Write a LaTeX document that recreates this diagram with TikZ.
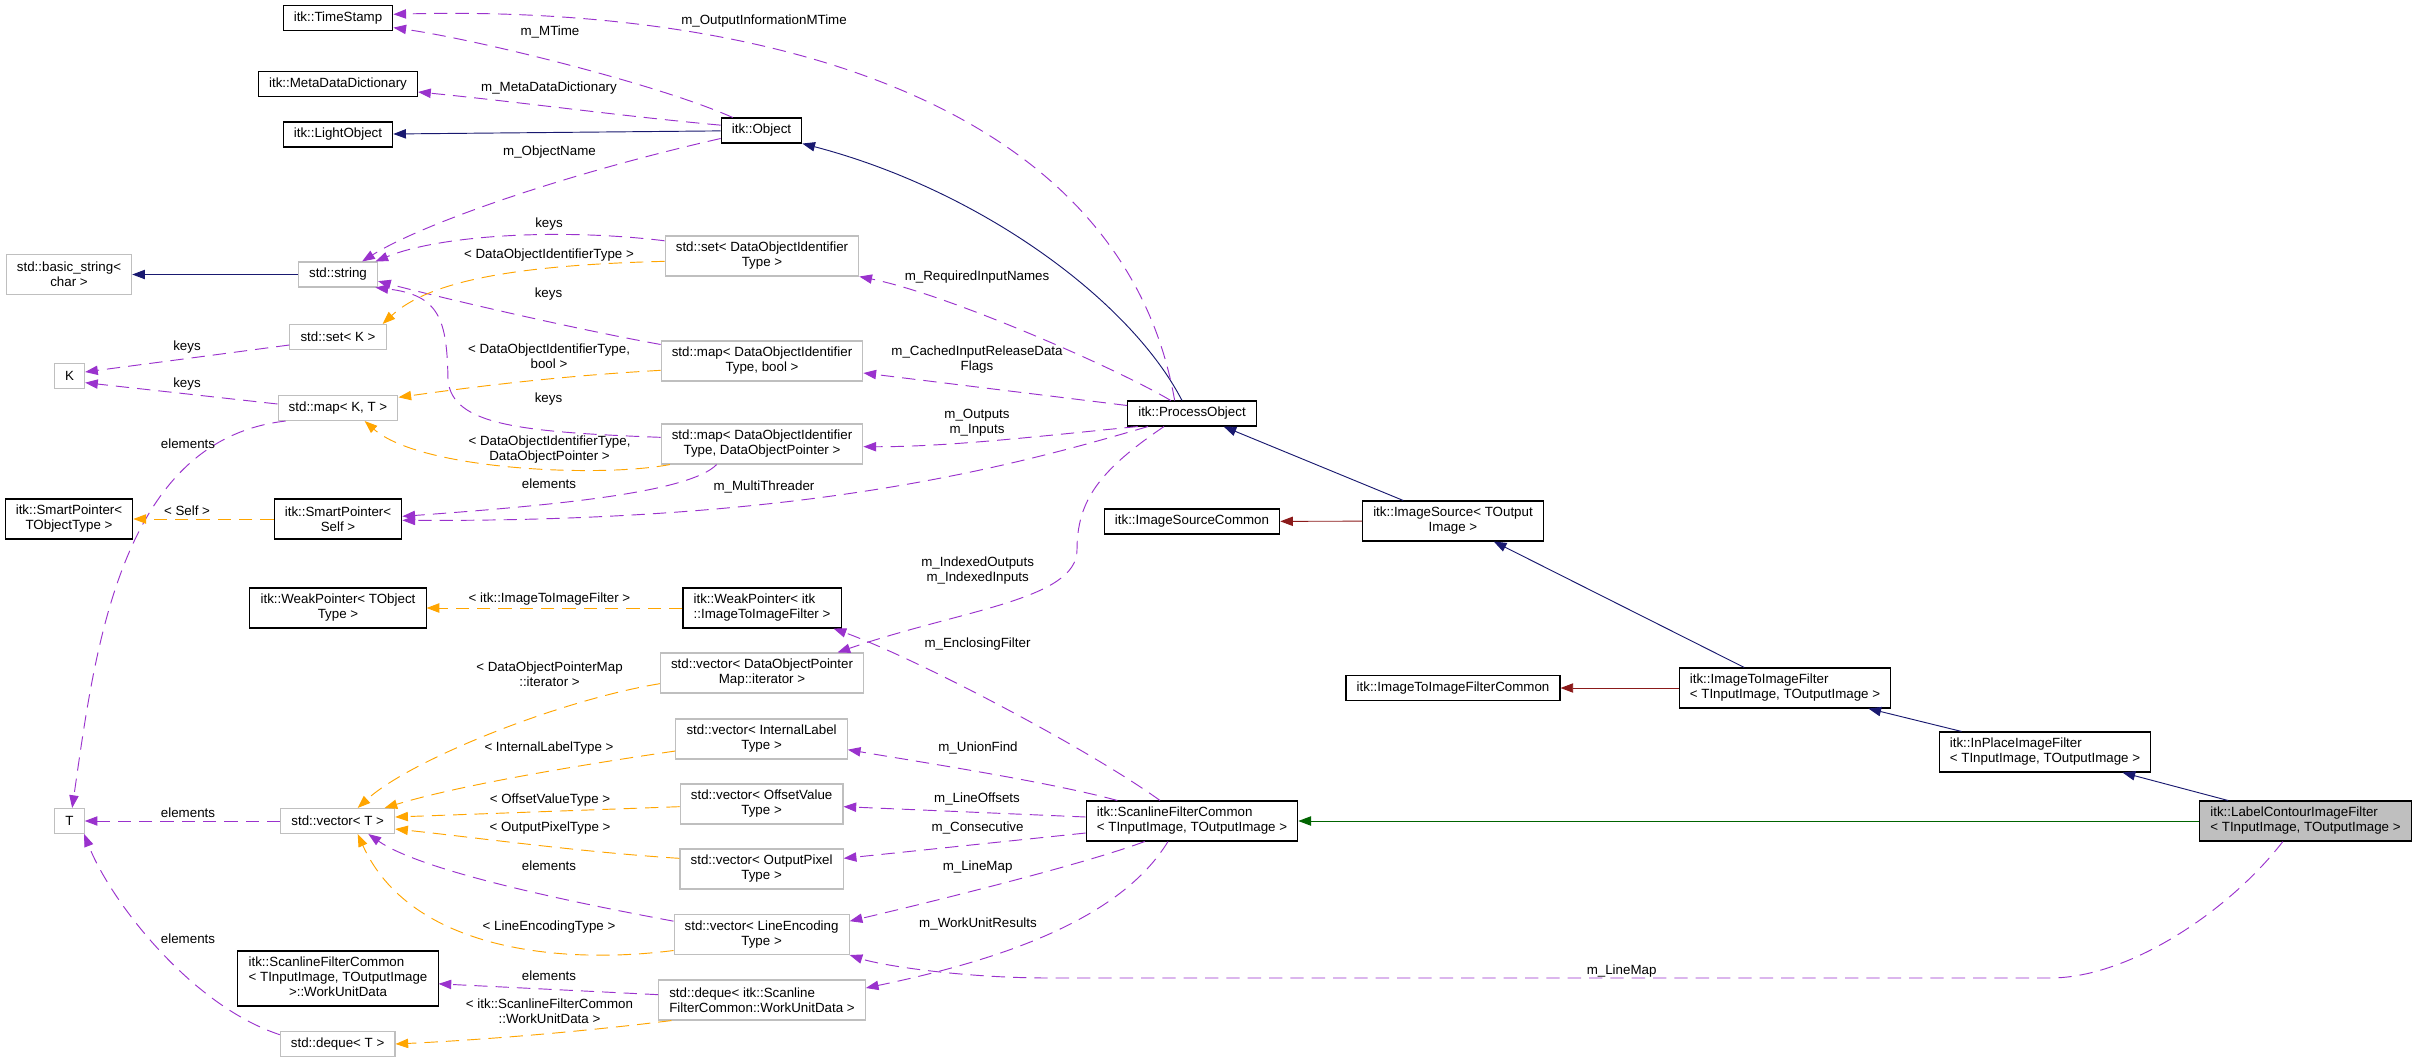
\documentclass[tikz,border=0pt]{standalone}
\usepackage{fontspec}
\setmainfont{Liberation Sans}
\usetikzlibrary{arrows.meta}
\definecolor{dxinh}{HTML}{191970}
\definecolor{dxprot}{HTML}{8B1A1A}
\definecolor{dxpriv}{HTML}{006400}
\definecolor{dxuse}{HTML}{9A32CD}
\definecolor{dxtpl}{HTML}{FFA500}
\definecolor{dxgrey}{HTML}{BFBFBF}
\begin{document}
\begin{tikzpicture}[x=0.75pt,y=-0.75pt,
  every node/.style={font=\fontsize{10}{11.25}\selectfont},
  cls/.style={draw=black,fill=white,line width=0.8pt,inner xsep=8pt,inner ysep=2pt,minimum height=18.75pt,align=center},
  ext/.style={cls,draw=dxgrey},
  two/.style={minimum height=30pt},
  three/.style={minimum height=41.25pt},
  lft/.style={align=left},
  lbl/.style={inner sep=0pt,align=center},
  edge/.style={line width=0.7pt,-{Triangle[length=9.5pt,width=7pt]}},
  inh/.style={edge,draw=dxinh},
  prot/.style={edge,draw=dxprot},
  priv/.style={edge,draw=dxpriv},
  usage/.style={edge,draw=dxuse,dash pattern=on 10pt off 6pt},
  tpl/.style={edge,draw=dxtpl,dash pattern=on 10pt off 6pt}]
\path[use as bounding box,fill=white] (0,0) rectangle (2416,1063);
\node[cls] (ts) at (338,18.3) {itk::TimeStamp};
\node[cls] (mdd) at (338,84) {itk::MetaDataDictionary};
\node[cls] (lo) at (338,134.5) {itk::LightObject};
\node[cls] (obj) at (761.5,130.5) {itk::Object};
\node[ext,two] (bs) at (69,274.5) {std::basic\_string<\\char >};
\node[ext] (str) at (338,274.5) {std::string};
\node[ext] (setK) at (338,337) {std::set< K >};
\node[ext] (K) at (69.5,376) {K};
\node[ext] (mapKT) at (338,408) {std::map< K, T >};
\node[cls,two] (spT) at (69,519) {itk::SmartPointer<\\TObjectType >};
\node[cls,two] (spS) at (338,519) {itk::SmartPointer<\\Self >};
\node[cls,two] (wpT) at (338,608) {itk::WeakPointer< TObject\\Type >};
\node[ext] (T) at (69.5,821) {T};
\node[ext] (vT) at (337.7,821) {std::vector< T >};
\node[cls,three] (wud) at (338,978.5) {\begin{tabular}{@{}l@{}}itk::ScanlineFilterCommon\\< TInputImage, TOutputImage\\\multicolumn{1}{@{}c@{}}{>::WorkUnitData}\end{tabular}};
\node[ext] (dqT) at (337.6,1044) {std::deque< T >};
\node[ext,two] (sdo) at (762,256) {std::set< DataObjectIdentifier\\Type >};
\node[ext,two] (mbool) at (762,361) {std::map< DataObjectIdentifier\\Type, bool >};
\node[ext,two] (mdop) at (762,444) {std::map< DataObjectIdentifier\\Type, DataObjectPointer >};
\node[cls,two,lft] (wpI) at (762,608) {itk::WeakPointer< itk\\::ImageToImageFilter >};
\node[ext,two] (vdm) at (762,673) {std::vector< DataObjectPointer\\Map::iterator >};
\node[ext,two] (vIL) at (761.6,739) {std::vector< InternalLabel\\Type >};
\node[ext,two] (vOV) at (761.6,804) {std::vector< OffsetValue\\Type >};
\node[ext,two] (vOP) at (761.6,869) {std::vector< OutputPixel\\Type >};
\node[ext,two] (vLE) at (761.6,934.5) {std::vector< LineEncoding\\Type >};
\node[ext,two,lft] (dqS) at (762,1000) {std::deque< itk::Scanline\\FilterCommon::WorkUnitData >};
\node[cls] (po) at (1192,413.5) {itk::ProcessObject};
\node[cls] (isc) at (1192,521.5) {itk::ImageSourceCommon};
\node[cls,two,lft] (sfc) at (1192,821) {itk::ScanlineFilterCommon\\< TInputImage, TOutputImage >};
\node[cls,two] (is) at (1453,521) {itk::ImageSource< TOutput\\Image >};
\node[cls] (i2ic) at (1453,688) {itk::ImageToImageFilterCommon};
\node[cls,two,lft] (i2i) at (1785,688) {itk::ImageToImageFilter\\< TInputImage, TOutputImage >};
\node[cls,two,lft] (ip) at (2045,752) {itk::InPlaceImageFilter\\< TInputImage, TOutputImage >};
\node[cls,two,lft,fill=dxgrey] (lc) at (2305.5,821) {itk::LabelContourImageFilter\\< TInputImage, TOutputImage >};
\draw[inh] (obj) -- (lo);
\draw[inh] ([xshift=-7.5pt]po.north) .. controls (1130,300) and (980,190) .. (obj.south east);
\draw[inh] (is) -- (po);
\draw[inh] (i2i) -- (is);
\draw[inh] (ip) -- (i2i);
\draw[inh] (lc) -- (ip);
\draw[inh] (str) -- (bs);
\draw[prot] (is) -- (isc);
\draw[prot] (i2i) -- (i2ic);
\draw[priv] (lc) -- (sfc);
\draw[usage] ([xshift=-13pt]po.north) .. controls (1120,90) and (740,5) .. ([yshift=3pt]ts.east) node[lbl] (l1) at (764,21) {m\_OutputInformationMTime};
\draw[usage] ([xshift=9pt]obj.north west) .. controls (660,85) and (480,40) .. ([yshift=-7pt]ts.east) node[lbl] (l2) at (550,32) {m\_MTime};
\draw[usage] ([yshift=4pt]obj.west) .. controls (620,116) and (520,102) .. ([yshift=-6pt]mdd.east) node[lbl] (l3) at (549,88) {m\_MetaDataDictionary};
\draw[usage] ([yshift=-6pt]obj.west) .. controls (560,175) and (420,225) .. ([xshift=-12pt]str.north east) node[lbl] (l4) at (549.5,152) {m\_ObjectName};
\draw[usage] ([yshift=-4pt]sdo.north west) .. controls (560,228) and (440,235) .. ([xshift=-2pt]str.north east) node[lbl] (l5) at (549,224) {keys};
\draw[usage] ([yshift=-3pt]mbool.north west) .. controls (580,330) and (450,300) .. ([yshift=-5pt]str.east) node[lbl] (l6) at (548.5,294) {keys};
\draw[usage] ([yshift=5pt]mdop.west) .. controls (520,432) and (452,425) .. (448,380) .. controls (447,320) and (440,295) .. ([xshift=-2pt]str.south east) node[lbl] (l7) at (548.5,399) {keys};
\draw[usage] ([yshift=-6pt]setK.west) -- ([yshift=3pt]K.east) node[lbl] (l8) at (187,347) {keys};
\draw[usage] ([yshift=3pt]mapKT.west) -- ([yshift=-5pt]K.east) node[lbl] (l9) at (187,384) {keys};
\draw[usage] ([xshift=6pt]mapKT.south west) .. controls (120,440) and (95,650) .. ([xshift=2pt]T.north) node[lbl] (l10) at (188,444) {elements};
\draw[usage] ([xshift=-34pt]mdop.south) .. controls (690,492) and (560,505) .. ([yshift=2pt]spS.east) node[lbl] (l11) at (549,484) {elements};
\draw[usage] ([xshift=-33pt]po.south) .. controls (1000,470) and (800,522) .. ([yshift=-1pt]spS.east) node[lbl] (l12) at (764,487) {m\_MultiThreader};
\draw[usage] ([xshift=-16pt]po.north) .. controls (1120,370) and (950,295) .. (sdo.south east) node[lbl] (l13) at (977,277) {m\_RequiredInputNames};
\draw[usage] ([yshift=6pt]po.west) -- ([yshift=-9pt]mbool.east) node[lbl] (l14) at (977,360) {m\_CachedInputReleaseData\\Flags};
\draw[usage] ([xshift=8pt]po.south west) .. controls (1050,435) and (950,447) .. ([yshift=-2pt]mdop.east) node[lbl] (l15) at (977,423) {m\_Outputs\\m\_Inputs};
\draw[usage] ([xshift=-21pt]po.south) .. controls (1100,470) and (1077,500) .. (1077,550) .. controls (1077,600) and (960,610) .. ([xshift=-20pt]vdm.north east) node[lbl] (l16) at (977.7,571) {m\_IndexedOutputs\\m\_IndexedInputs};
\draw[usage] ([xshift=-24pt]sfc.north) .. controls (1090,750) and (920,660) .. ([xshift=-6pt]wpI.south east) node[lbl] (l17) at (977.5,644) {m\_EnclosingFilter};
\draw[usage] ([xshift=-56pt]sfc.north) .. controls (1050,782) and (920,762) .. ([yshift=-8pt]vIL.east) node[lbl] (l18) at (978,748) {m\_UnionFind};
\draw[usage] ([yshift=3pt]sfc.west) -- ([yshift=-2pt]vOV.east) node[lbl] (l19) at (977,799) {m\_LineOffsets};
\draw[usage] ([yshift=-9pt]sfc.west) -- ([yshift=8pt]vOP.east) node[lbl] (l20) at (977.6,828) {m\_Consecutive};
\draw[usage] ([xshift=-35.5pt]sfc.south) .. controls (1090,862) and (960,895) .. ([yshift=10pt]vLE.east) node[lbl] (l21) at (977.6,867) {m\_LineMap};
\draw[usage] ([xshift=-18pt]sfc.south) .. controls (1120,920) and (1000,960) .. ([yshift=9pt]dqS.east) node[lbl] (l22) at (978,924) {m\_WorkUnitResults};
\draw[usage] ([xshift=-17pt]lc.south) .. controls (2230,910) and (2130,978) .. (2050,978) -- (1050,978) .. controls (960,978) and (880,965) .. (vLE.south east) node[lbl] (l23) at (1621.6,971) {m\_LineMap};
\draw[usage] (vT) -- (T) node[lbl] (l24) at (188,813) {elements};
\draw[usage] ([yshift=10pt]vLE.west) .. controls (560,900) and (420,870) .. ([xshift=23pt]vT.south) node[lbl] (l25) at (549,866) {elements};
\draw[usage] ([yshift=7pt]dqT.west) .. controls (190,1005) and (110,900) .. ([xshift=11pt]T.south) node[lbl] (l26) at (188,939) {elements};
\draw[usage] ([yshift=4pt]dqS.west) -- ([yshift=-4pt]wud.east) node[lbl] (l27) at (549,976) {elements};
\draw[tpl] ([yshift=-4pt]sdo.west) .. controls (520,265) and (430,280) .. ([xshift=-3pt]setK.north east) node[lbl] (l28) at (549,255) {< DataObjectIdentifierType >};
\draw[tpl] ([yshift=-7pt]mbool.west) .. controls (560,376) and (480,386) .. ([yshift=8pt]mapKT.east) node[lbl] (l29) at (549,356) {< DataObjectIdentifierType,\\bool >};
\draw[tpl] ([xshift=7pt]mdop.south west) .. controls (600,478) and (420,470) .. ([xshift=20pt]mapKT.south) node[lbl] (l30) at (549.5,450) {< DataObjectIdentifierType,\\DataObjectPointer >};
\draw[tpl] (spS) -- (spT) node[lbl] (l31) at (187,511) {< Self >};
\draw[tpl] (wpI) -- (wpT) node[lbl] (l32) at (549.5,599) {< itk::ImageToImageFilter >};
\draw[tpl] ([yshift=-8pt]vdm.west) .. controls (560,700) and (410,760) .. ([xshift=15pt]vT.north) node[lbl] (l33) at (549.5,674) {< DataObjectPointerMap\\::iterator >};
\draw[tpl] ([yshift=-9pt]vIL.west) .. controls (580,765) and (460,785) .. ([xshift=-8pt]vT.north east) node[lbl] (l34) at (549,748) {< InternalLabelType >};
\draw[tpl] ([yshift=-2pt]vOV.west) -- ([yshift=3pt]vT.east) node[lbl] (l35) at (550,800) {< OffsetValueType >};
\draw[tpl] ([yshift=8pt]vOP.west) .. controls (580,852) and (480,838) .. ([yshift=-6pt]vT.east) node[lbl] (l36) at (550,828) {< OutputPixelType >};
\draw[tpl] ([yshift=-12pt]vLE.west) .. controls (560,965) and (410,950) .. ([xshift=15pt]vT.south) node[lbl] (l37) at (549,927) {< LineEncodingType >};
\draw[tpl] ([xshift=10pt]dqS.south west) .. controls (580,1032) and (480,1040) .. (dqT.east) node[lbl] (l38) at (549.5,1011) {< itk::ScanlineFilterCommon\\::WorkUnitData >};
\end{tikzpicture}
\end{document}
